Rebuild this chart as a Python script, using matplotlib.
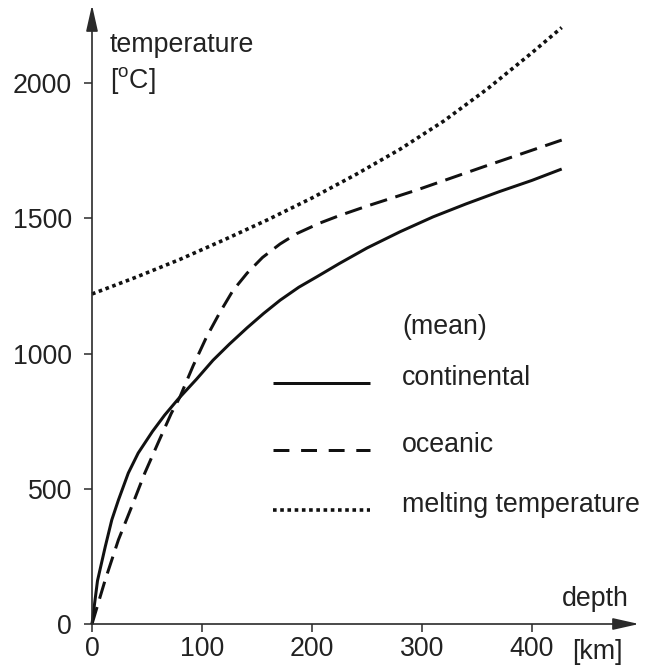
import matplotlib
matplotlib.use("Agg")
import matplotlib.pyplot as plt
from matplotlib.lines import Line2D

# ---------------- data ----------------
depth_cont = [0, 5, 12, 18, 24, 33, 42, 55, 66, 78, 95, 110, 125, 141, 156, 171, 188, 205,
              225, 250, 280, 310, 340, 370, 400, 427]
temp_cont = [0, 160, 285, 385, 458, 558, 632, 712, 772, 830, 905, 975, 1035, 1095, 1148, 1197,
             1245, 1285, 1333, 1390, 1450, 1505, 1553, 1598, 1640, 1682]

depth_ocean = [0, 12, 24, 36, 48, 60, 72, 80, 92, 104, 116, 128, 141, 155, 171, 186, 207, 225,
               250, 295, 355, 427]
temp_ocean = [0, 163, 311, 433, 558, 669, 778, 840, 955, 1060, 1150, 1232, 1297, 1355, 1405,
              1443, 1482, 1510, 1545, 1604, 1689, 1789]

depth_melt = [0, 40, 80, 120, 160, 200, 240, 280, 320, 360, 400, 427]
temp_melt = [1220, 1282, 1348, 1420, 1495, 1575, 1662, 1755, 1860, 1980, 2112, 2205]

x_ticks = [0, 100, 200, 300, 400]
y_ticks = [0, 500, 1000, 1500, 2000]
legend_title = "(mean)"
labels = ["continental", "oceanic", "melting temperature"]

# ---------------- style ----------------
plt.rcParams['font.family'] = ['Liberation Sans', 'DejaVu Sans']
plt.rcParams['mathtext.fontset'] = 'custom'
plt.rcParams['mathtext.rm'] = 'Liberation Sans'
plt.rcParams['mathtext.it'] = 'Liberation Sans:italic'
plt.rcParams['mathtext.bf'] = 'Liberation Sans:bold'

W, H = 646, 665
FS = 19.3
LC = '#111111'
TC = '#222222'
AC = '#2a2a2a'

fig = plt.figure(figsize=(W / 100, H / 100), dpi=100)

# axes geometry in pixels
x0, x1 = 92, 639
y0, y1 = 624, 5
ax = fig.add_axes([x0 / W, (H - y0) / H, (x1 - x0) / W, (y0 - y1) / H])
ax.set_xlim(0, (x1 - x0) / 1.1)
ax.set_ylim(0, (y0 - y1) / 0.2705)
for s in ax.spines.values():
    s.set_visible(False)
ax.patch.set_alpha(0)

lw = 2.16
style_cont = dict(color=LC, lw=lw, linestyle='-', solid_capstyle='butt')
style_ocean = dict(color=LC, lw=lw, linestyle=(0, (5.9, 2.9)), dash_capstyle='butt')
style_melt = dict(color=LC, lw=2.6, linestyle=(0, (1.0, 1.0)), dash_capstyle='butt')

ax.plot(depth_cont, temp_cont, clip_on=False, **style_cont)
ax.plot(depth_ocean, temp_ocean, clip_on=False, **style_ocean)
ax.plot(depth_melt, temp_melt, clip_on=False, **style_melt)

ax.set_xticks(x_ticks)
ax.set_yticks(y_ticks)
ax.tick_params(axis='both', direction='out', length=5.8, width=1.1, color=AC,
               labelsize=FS, labelcolor=TC)
ax.tick_params(axis='x', pad=3)
ax.tick_params(axis='y', pad=8.5)

# axis arrows
xmax = ax.get_xlim()[1]
ymax = ax.get_ylim()[1]
arrow_kw = dict(arrowstyle='-|>,head_length=1.6,head_width=0.36', mutation_scale=10,
                lw=1.2, color=AC, shrinkA=0, shrinkB=0)
ax.annotate('', xy=(xmax, 0), xytext=(0, 0), xycoords='data', textcoords='data',
            arrowprops=arrow_kw, annotation_clip=False)
ax.annotate('', xy=(0, ymax), xytext=(0, 0), xycoords='data', textcoords='data',
            arrowprops=arrow_kw, annotation_clip=False)


def fx(px):
    return px / W


def fy(py):
    return 1 - py / H


# axis titles
fig.text(fx(110), fy(52), "temperature", fontsize=FS, color=TC, va='baseline', ha='left')
fig.text(fx(110), fy(88), r"[$^{\rm o}$C]", fontsize=FS, color=TC, va='baseline', ha='left')
fig.text(fx(562), fy(606), "depth", fontsize=FS, color=TC, va='baseline', ha='left')
fig.text(fx(572), fy(659), "[km]", fontsize=FS, color=TC, va='baseline', ha='left')

# legend (manual)
fig.text(fx(402), fy(327), legend_title, fontsize=FS, color=TC, va='center', ha='left')
legend_styles = [
    (dict(color=LC, lw=lw, linestyle='-', solid_capstyle='butt'), 383),
    (dict(color=LC, lw=lw, linestyle=(0, (5.3, 3.9)), dash_capstyle='butt'), 450),
    (dict(color=LC, lw=2.6, linestyle=(0, (1.0, 1.0)), dash_capstyle='butt'), 510),
]
for (st, py), lab in zip(legend_styles, labels):
    fig.add_artist(Line2D([fx(273), fx(370)], [fy(py), fy(py)], transform=fig.transFigure, **st))
    fig.text(fx(402), fy(py - 5), lab, fontsize=FS, color=TC, va='center', ha='left')

fig.savefig("out.png", dpi=100)
